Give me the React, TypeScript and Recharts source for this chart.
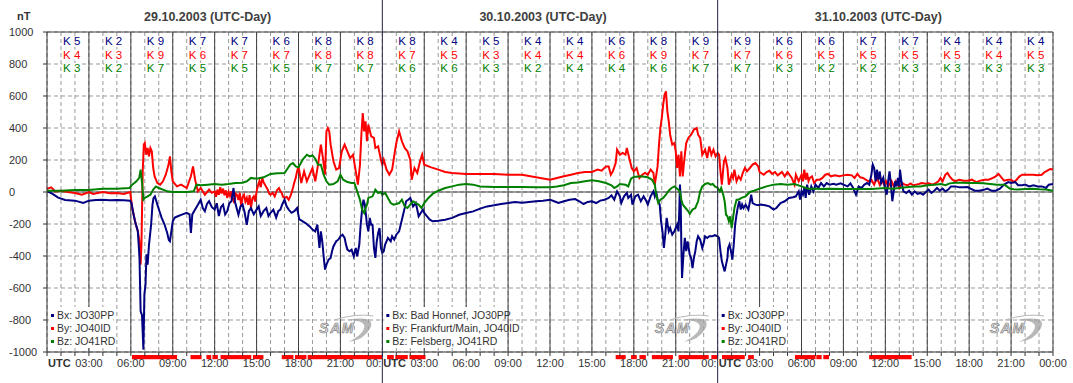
import React from 'react'
import {
  LineChart, Line, XAxis, YAxis, CartesianGrid, ReferenceLine, ReferenceArea,
} from 'recharts'

// Magnetometer Bx / By / Bz, 29.-31.10.2003, hours since 29.10. 00:00 UTC
const BX: [number, number][] = [
  [0, 5], [0.4, -12], [0.8, -35], [1.3, -50], [2, -54], [2.6, -68], [3, -54], [3.5, -50], [4, -48], [4.5, -52], [5, -50], [5.5, -52], [5.95, -55],
  [6.05, -70], [6.15, -120], [6.3, -183], [6.5, -245], [6.62, -410], [6.7, -745], [6.8, -770], [6.9, -985], [6.97, -640], [7.05, -580], [7.12, -390],
  [7.2, -455], [7.3, -330], [7.45, -205], [7.55, -80], [7.62, -38], [7.72, -27], [7.9, -79], [8.05, -120], [8.2, -160], [8.4, -200], [8.6, -255],
  [8.72, -300], [8.8, -308], [8.9, -245], [9.0, -183], [9.15, -160], [9.4, -150], [9.7, -140], [10, -130], [10.2, -140], [10.3, -255], [10.4, -140],
  [10.6, -110], [10.8, -80], [11, -48], [11.15, -100], [11.3, -120], [11.45, -75], [11.6, -58], [11.8, -95], [12, -110], [12.15, -70], [12.3, -150],
  [12.45, -95], [12.6, -79], [12.75, -140], [12.9, -120], [13.05, -70], [13.2, -58], [13.35, 25], [13.45, -60], [13.6, -110], [13.7, -142],
  [13.85, -90], [14, -79], [14.15, -130], [14.3, -205], [14.45, -120], [14.6, -100], [14.8, -140], [15, -110], [15.15, -90], [15.3, -150],
  [15.5, -120], [15.7, -100], [15.85, -150], [16, -130], [16.2, -110], [16.4, -160], [16.55, -120], [16.7, -110], [16.85, -75], [17, -48],
  [17.15, -90], [17.3, -110], [17.5, -130], [17.7, -120], [17.9, -100], [18.05, -170],
  [18.3, -183], [18.5, -194], [18.8, -215], [19, -235], [19.2, -246], [19.35, -204], [19.5, -350], [19.6, -246], [19.7, -308], [19.8, -402],
  [19.9, -485], [20, -454], [20.15, -423], [20.3, -412], [20.4, -370], [20.5, -340], [20.7, -308], [20.85, -298], [21, -277], [21.15, -267],
  [21.3, -287], [21.4, -329], [21.5, -360], [21.65, -370], [21.8, -360], [21.95, -402], [22.1, -350], [22.2, -402], [22.35, -330], [22.45, -204],
  [22.55, -110], [22.65, -48], [22.75, -79], [22.9, -204], [23, -246], [23.1, -162], [23.2, -204], [23.3, -204], [23.4, -350], [23.5, -412],
  [23.6, -308], [23.7, -256], [23.8, -225], [23.9, -350], [24, -381], [24.1, -370], [24.2, -329], [24.4, -287], [24.6, -308], [24.7, -277],
  [24.85, -298], [25, -267], [25.2, -246], [25.4, -173], [25.6, -100], [25.7, -58], [25.85, -48], [26, -37], [26.2, -90], [26.4, -69],
  [26.6, -152], [26.75, -131], [26.9, -110], [27, -131], [27.2, -152], [27.4, -173], [27.6, -183], [28, -179], [28.5, -173], [29, -162],
  [29.5, -142], [30, -131], [30.5, -121], [31, -104], [31.5, -90], [32, -83], [32.5, -75], [33, -69], [33.5, -62], [34, -67], [34.5, -62],
  [35, -58], [35.5, -54], [36, -48],
  [36.3, -58], [36.6, -69], [37, -58], [37.4, -48], [37.8, -44], [38.1, -58], [38.4, -75], [38.7, -62], [39, -58], [39.3, -69], [39.6, -54],
  [39.9, -48], [40.2, -37], [40.4, -21], [40.6, -48], [40.8, 4], [41, -27], [41.1, -69], [41.3, -27], [41.5, -6], [41.6, -37], [41.8, -17],
  [41.9, -79], [42.1, -27], [42.3, -17], [42.5, -58], [42.7, -27], [42.9, -58], [43, -79], [43.2, -27], [43.4, 4], [43.5, -27], [43.6, 4],
  [43.7, -48], [43.85, -79], [43.95, -183], [44.05, -246], [44.15, -350], [44.25, -267], [44.35, -162], [44.5, -246], [44.6, -225],
  [44.75, -267], [44.9, -246], [45, -225], [45.1, -204], [45.2, -246], [45.25, -121], [45.3, 46], [45.35, -37], [45.4, -329], [45.45, -537],
  [45.55, -392], [45.65, -287], [45.75, -370], [45.85, -308], [46, -392], [46.1, -412], [46.2, -475], [46.3, -412], [46.4, -370], [46.5, -308],
  [46.6, -277], [46.75, -298], [46.9, -350], [47, -319], [47.1, -277], [47.25, -287], [47.4, -277], [47.6, -277], [47.8, -270], [48, -277],
  [48.1, -287], [48.2, -370], [48.3, -433], [48.4, -465], [48.5, -496], [48.6, -454], [48.7, -412], [48.75, -350], [48.85, -329], [48.95, -370],
  [49.05, -423], [49.15, -329], [49.25, -204], [49.35, -142], [49.45, -90], [49.55, -58], [49.65, -110], [49.75, -79], [49.85, -100], [50, -79],
  [50.2, -110], [50.4, -17], [50.5, -69], [50.7, -79], [50.9, -83], [51.1, -79], [51.4, -83], [51.7, -90], [52, -110], [52.2, -100], [52.5, -69],
  [52.8, -58], [53.1, -37], [53.4, -33], [53.6, -27], [53.8, 4], [53.9, -48], [54, 4],
  [54.1, -17], [54.2, 25], [54.3, -37], [54.4, 46], [54.55, -17], [54.7, 35], [54.85, 4], [55, 46], [55.2, 25], [55.4, 56], [55.6, 35], [55.8, 56],
  [56, 46], [56.3, 52], [56.5, 46], [56.8, 54], [57, 46], [57.3, 35], [57.5, 54], [57.7, 25], [57.9, -17], [58.1, 35], [58.3, 25], [58.5, 46],
  [58.7, 56], [58.85, 46], [59, 108], [59.1, 171], [59.2, 150], [59.3, 67], [59.4, 140], [59.5, 77], [59.6, 129], [59.7, 56], [59.85, 88],
  [60, 15], [60.1, -17], [60.2, 67], [60.3, 129], [60.4, 46], [60.5, -58], [60.6, 4], [60.7, 67], [60.8, 35], [60.9, 88], [61, 35], [61.05, 140],
  [61.15, 67], [61.3, 4], [61.5, -6], [61.7, 8], [61.9, -17], [62.1, 4], [62.3, -12], [62.5, -6], [62.7, -17], [62.9, 0], [63.1, 15], [63.3, -6],
  [63.5, 8], [63.7, 25], [63.9, 8], [64.1, 21], [64.3, 4], [64.5, 15], [64.7, 35], [65, 35], [65.3, 29], [65.6, 29], [65.9, 31], [66.1, 21],
  [66.4, 8], [66.7, 8], [67, 12], [67.3, 21], [67.6, 8], [67.9, 8], [68.2, 21], [68.5, 46], [68.8, 62], [69, 56], [69.3, 62], [69.5, 42],
  [69.8, 42], [70, 46], [70.3, 35], [70.6, 42], [70.9, 35], [71.2, 35], [71.5, 25], [71.7, 46], [72, 50],
]

const BY: [number, number][] = [
  [0, 20], [0.3, 29], [0.6, 4], [1, 8], [1.5, 0], [2, -6], [2.5, -17], [3, 0], [3.3, -12], [4, 0], [4.5, -8], [5, -6], [5.5, -12], [5.95, 0],
  [6.1, -100], [6.3, -183], [6.5, -245], [6.6, -298], [6.7, -454], [6.76, -330], [6.85, 129], [6.93, 296], [7.0, 306], [7.1, 233], [7.2, 275],
  [7.3, 223], [7.4, 275], [7.5, 254], [7.6, 150], [7.7, 98], [7.9, 56], [8.1, 46], [8.3, 67], [8.5, 108], [8.7, 171], [8.8, 223], [8.9, 129],
  [9.0, 67], [9.3, 35], [9.6, 46], [10, 25], [10.3, 98], [10.45, 160], [10.6, 77], [10.8, 4], [11, 25], [11.3, -17], [11.6, 15], [11.8, -5],
  [12, 4], [12.1, -30], [12.2, 15], [12.3, -17], [12.4, 30], [12.5, -10], [12.6, 21], [12.7, -20], [12.8, 10], [12.9, -37], [13, 0], [13.1, -25],
  [13.2, 4], [13.3, -40], [13.4, -69], [13.5, -10], [13.6, -17], [13.7, -50], [13.8, -5], [13.9, -90], [14, -30], [14.1, -17], [14.2, -60],
  [14.3, -37], [14.4, -80], [14.5, -20], [14.6, -100], [14.7, -40], [14.8, -27], [14.9, -60], [15, 4], [15.1, 40], [15.2, 67], [15.3, 30],
  [15.4, 88], [15.5, 60], [15.6, 46], [15.7, 30], [15.8, 15], [15.9, -10], [16, -17], [16.15, -5], [16.3, -27], [16.45, 10], [16.6, 25],
  [16.7, 5], [16.8, -6], [16.9, -30], [17, -37], [17.15, -30], [17.3, -48], [17.45, -20], [17.6, 25], [17.7, 60], [17.8, 88], [17.9, 130], [18, 160],
  [18.2, 56], [18.4, 129], [18.6, 67], [18.8, 108], [19, 150], [19.2, 67], [19.4, 171], [19.6, 296], [19.75, 212], [19.9, 108], [20, 379],
  [20.1, 400], [20.2, 379], [20.3, 296], [20.5, 192], [20.7, 140], [20.9, 150], [21.1, 254], [21.3, 296], [21.5, 254], [21.7, 212], [21.9, 233],
  [22.1, 129], [22.25, 46], [22.4, 171], [22.5, 358], [22.6, 494], [22.7, 379], [22.8, 442], [22.9, 317], [23, 421], [23.2, 348], [23.4, 338],
  [23.5, 275], [23.7, 285], [23.9, 202], [24, 171], [24.1, 202], [24.3, 140], [24.5, 108], [24.7, 140], [24.9, 254], [25, 306], [25.2, 379],
  [25.4, 317], [25.6, 275], [25.8, 254], [26, 202], [26.1, 77], [26.3, 150], [26.5, 119], [26.7, 192], [26.85, 233], [27, 171], [27.5, 154],
  [28, 140], [28.5, 125], [29, 119], [30, 113], [31, 113], [32, 113], [33, 108], [34, 108], [35, 92], [36, 77],
  [36.5, 88], [37, 98], [37.5, 108], [38, 119], [38.5, 125], [39, 125], [39.4, 140], [39.7, 133], [40, 160], [40.2, 160], [40.35, 108],
  [40.5, 129], [40.7, 181], [40.8, 265], [41, 233], [41.2, 244], [41.4, 233], [41.5, 275], [41.7, 202], [41.85, 150], [42, 129], [42.2, 150],
  [42.4, 88], [42.6, 108], [42.8, 119], [43, 108], [43.2, 140], [43.4, 119], [43.5, 46], [43.7, 160], [43.8, 296], [43.9, 400], [44, 463],
  [44.1, 546], [44.2, 608], [44.3, 629], [44.4, 504], [44.5, 442], [44.6, 358], [44.75, 296], [44.9, 306], [45, 254], [45.1, 150], [45.2, 233],
  [45.3, 98], [45.4, 254], [45.5, 98], [45.6, 192], [45.75, 306], [45.9, 338], [46.1, 358], [46.3, 390], [46.5, 400], [46.6, 358], [46.75, 338],
  [46.9, 233], [47.1, 265], [47.25, 212], [47.4, 285], [47.55, 233], [47.7, 265], [47.85, 223], [48, 244], [48.1, 233], [48.2, 129], [48.3, 46],
  [48.45, 192], [48.55, 212], [48.7, 150], [48.8, 46], [49, 108], [49.1, 88], [49.2, 140], [49.35, 67], [49.5, 98], [49.65, 77], [49.8, 119],
  [49.95, 150], [50.1, 129], [50.3, 150], [50.5, 171], [50.7, 181], [50.9, 160], [51, 125], [51.3, 108], [51.5, 125], [51.7, 133], [51.9, 113],
  [52.1, 125], [52.3, 104], [52.6, 125], [52.8, 98], [53, 125], [53.3, 88], [53.5, 46], [53.6, 108], [53.8, 67], [54, 108],
  [54.1, 67], [54.2, 140], [54.3, 77], [54.4, 119], [54.5, 67], [54.6, 88], [54.75, 98], [54.9, 56], [55.1, 77], [55.3, 77], [55.5, 88],
  [55.7, 108], [55.9, 113], [56.1, 98], [56.4, 104], [56.7, 98], [57, 104], [57.3, 108], [57.6, 104], [57.8, 88], [58, 113], [58.2, 92],
  [58.4, 88], [58.6, 77], [58.8, 67], [59, 77], [59.2, 46], [59.4, 88], [59.6, 46], [59.75, 77], [59.9, 46], [60.05, 67], [60.2, 35], [60.3, 46],
  [60.45, 67], [60.6, 35], [60.75, 67], [60.9, 46], [61, 25], [61.2, 56], [61.4, 46], [61.6, 42], [61.8, 54], [62, 42], [62.2, 46], [62.4, 50],
  [62.6, 56], [62.9, 52], [63.1, 54], [63.4, 46], [63.6, 56], [63.8, 67], [63.95, 88], [64.1, 67], [64.3, 108], [64.45, 119], [64.6, 98],
  [64.8, 77], [65, 67], [65.3, 77], [65.6, 71], [65.9, 71], [66.2, 77], [66.5, 62], [66.8, 71], [67.1, 77], [67.4, 77], [67.7, 88], [67.9, 98],
  [68.1, 113], [68.3, 92], [68.5, 71], [68.8, 77], [69, 77], [69.2, 62], [69.4, 77], [69.6, 98], [69.8, 108], [70, 108], [70.3, 108],
  [70.6, 108], [70.9, 104], [71.2, 108], [71.4, 125], [71.6, 133], [71.8, 144], [72, 140],
]

const BZ: [number, number][] = [
  [0, 8], [1, 8], [2, 12], [3, 12], [4, 21], [5, 21], [5.9, 25], [6.1, 46], [6.4, 67], [6.6, 88], [6.7, 140], [6.8, 60], [6.9, -48], [7.0, -37],
  [7.2, -27], [7.4, -17], [7.6, 15], [7.8, 35], [8, 25], [8.3, 15], [8.6, 4], [9, 0], [9.5, 0], [10, 0], [10.5, 4], [10.7, 46], [11, 42],
  [11.5, 46], [12, 50], [12.5, 46], [13, 50], [13.5, 56], [14, 58], [14.3, 67], [14.6, 88], [15, 83], [15.5, 92], [16, 113], [16.5, 117],
  [17, 119], [17.4, 171], [17.6, 181], [17.8, 160], [18, 154], [18.3, 202], [18.6, 233], [18.8, 223], [19, 229], [19.2, 208], [19.4, 171],
  [19.6, 171], [19.8, 108], [20, 67], [20.2, 46], [20.5, 50], [20.8, 67], [21, 108], [21.2, 77], [21.5, 62], [21.8, 56], [22, 56], [22.2, 4],
  [22.4, -48], [22.55, -110], [22.7, -131], [22.8, -100], [22.9, -79], [23, -37], [23.3, -27], [23.5, 15], [23.7, -6], [23.9, 0], [24, -17],
  [24.2, -6], [24.4, -37], [24.6, -69], [24.8, -79], [25, -75], [25.2, -69], [25.4, -48], [25.6, -90], [25.8, -100], [26, -79], [26.2, -58],
  [26.4, -69], [26.6, -79], [26.8, -100], [27, -69], [27.3, -37], [27.6, -12], [28, 8], [28.5, 25], [29, 35], [29.5, 46], [30, 50], [30.5, 46],
  [31, 35], [32, 31], [33, 31], [34, 31], [35, 29], [36, 29],
  [36.5, 35], [37, 42], [37.5, 56], [38, 60], [38.5, 67], [39, 73], [39.5, 67], [40, 56], [40.4, 42], [40.6, 25], [40.8, 35], [41, 50],
  [41.4, 46], [41.6, 35], [41.8, 83], [42, 94], [42.5, 98], [43, 92], [43.3, 77], [43.5, 46], [43.6, -17], [43.75, -69], [43.9, -48],
  [44.1, -37], [44.3, -17], [44.5, 8], [44.7, 25], [44.9, 35], [45.1, 21], [45.3, 4], [45.4, -48], [45.5, -79], [45.7, -100], [45.9, -121],
  [46, -137], [46.2, -110], [46.4, -100], [46.6, -58], [46.75, 4], [46.9, 35], [47.1, 50], [47.3, 56], [47.5, 46], [47.65, 50], [47.8, 35],
  [48, 25], [48.15, 4], [48.25, 25], [48.4, -17], [48.5, -58], [48.6, -142], [48.7, -152], [48.8, -183], [48.9, -152], [49, -225], [49.1, -162],
  [49.2, -100], [49.35, -48], [49.5, -48], [49.7, -37], [50, -27], [50.3, 0], [50.6, 8], [51, 21], [51.5, 35], [52, 46], [52.5, 50], [53, 46],
  [53.5, 50], [54, 35],
  [54.5, 21], [55, 21], [55.5, 19], [56, 21], [57, 19], [58, 19], [59, 19], [60, 25], [60.5, 21], [61, 25], [62, 35], [62.5, 35], [63, 42],
  [63.5, 46], [64, 50], [64.3, 42], [64.6, 54], [65, 58], [65.5, 58], [66, 56], [66.5, 56], [67, 54], [67.5, 50], [68, 46], [68.5, 46],
  [68.7, 35], [68.9, 21], [69.2, 17], [69.5, 15], [70, 19], [70.5, 21], [71, 17], [71.5, 15], [72, 8],
]

// red marks below the time axis (start hour, end hour)
const ALERTS: [number, number][] = [
  [6.08, 9.31], [10.27, 11.06], [11.41, 11.75], [11.84, 12.23], [12.42, 14.62], [14.74, 15.49], [16.8, 17.64], [17.75, 18.57],
  [18.66, 24.0], [24.34, 24.82], [24.93, 25.82], [25.94, 27.09], [40.7, 41.42], [41.8, 42.21], [42.4, 42.86], [43.29, 44.8],
  [45.2, 47.36], [47.55, 48.03], [48.31, 49.94], [50.18, 50.59], [53.53, 55.01], [55.06, 55.44], [55.56, 55.97], [58.84, 61.88],
]

// K indices per 3-hour block
const K_BX = [5, 2, 9, 7, 7, 6, 8, 8, 8, 4, 5, 4, 4, 6, 8, 9, 9, 6, 6, 7, 7, 4, 4, 4]
const K_BY = [4, 3, 9, 6, 7, 7, 8, 8, 7, 5, 3, 4, 4, 6, 9, 7, 7, 6, 5, 5, 5, 5, 4, 5]
const K_BZ = [3, 2, 7, 5, 5, 5, 7, 7, 6, 6, 3, 2, 4, 4, 6, 7, 7, 3, 2, 2, 3, 3, 3, 3]

const DAYS = ['29.10.2003 (UTC-Day)', '30.10.2003 (UTC-Day)', '31.10.2003 (UTC-Day)']
const LEGEND_SHORT = ['Bx: JO30PP', 'By: JO40ID', 'Bz: JO41RD']
const LEGEND_LONG = ['Bx: Bad Honnef, JO30PP', 'By: Frankfurt/Main, JO40ID', 'Bz: Felsberg, JO41RD']
const Y_TICKS = [-1000, -800, -600, -400, -200, 0, 200, 400, 600, 800, 1000]
const HOURS = Array.from({ length: 73 }, (_, i) => i)
const MAJOR = HOURS.filter((h) => h % 3 === 0 && h > 0 && h < 72 && h % 24 !== 0)

const COLORS = ['#000080', '#ff0000', '#008000']
const FONT = '"Liberation Sans", Arial, sans-serif'
const W = 1073
const H = 383
const PL = 47
const PT = 32
const PR = 1053
const PB = 352
const PXH = (PR - PL) / 72

const toRows = (d: [number, number][]) => d.map(([t, v]) => ({ t, v }))

function XTick({ x, payload }: any) {
  const v = payload.value as number
  if (v % 3 !== 0) return <g />
  if (v % 24 === 0 && v < 72) {
    return (
      <g fontFamily={FONT} fontSize={11} fill="#333">
        {v > 0 && <text x={x - 1} y={PB + 15} textAnchor="end">00:</text>}
        <text x={x + 1} y={PB + 15} textAnchor="start" fontWeight="bold">UTC</text>
      </g>
    )
  }
  const hh = String(v % 24).padStart(2, '0')
  return (
    <text x={x} y={PB + 15} textAnchor="middle" fontFamily={FONT} fontSize={11} fill="#333">{hh}:00</text>
  )
}

function YTick({ y, payload }: any) {
  return (
    <text x={9} y={y + 4} textAnchor="start" fontFamily={FONT} fontSize={11} fill="#333">{payload.value}</text>
  )
}

function Logo({ x, y }: { x: number; y: number }) {
  return (
    <g>
      <path d={`M ${x + 18} ${y + 6} Q ${x + 40} ${y - 1} ${x + 57} ${y + 2}`} fill="none" stroke="#b8b8b8" strokeWidth={1} />
      <path
        d={`M ${x + 30} ${y + 6} Q ${x + 60} ${y + 1} ${x + 54} ${y + 14} Q ${x + 48} ${y + 26} ${x + 32} ${y + 28} Q ${x + 48} ${y + 20} ${x + 48} ${y + 12} Q ${x + 47} ${y + 6} ${x + 30} ${y + 6} Z`}
        fill="#a0a0a0" opacity={0.75}
      />
      <text x={x + 3} y={y + 19} fontFamily={FONT} fontSize={14} fontStyle="italic" fontWeight="bold"
        letterSpacing={1.5} fill="#dcdcdc" stroke="#777" strokeWidth={0.6}>SAM</text>
    </g>
  )
}

function Overlay() {
  const kRows = [K_BX, K_BY, K_BZ]
  const kBase = [45, 58.5, 72]
  return (
    <svg width={W} height={H} style={{ position: 'absolute', left: 0, top: 0, pointerEvents: 'none' }}>
      <text x={17} y={20} fontFamily={FONT} fontSize={11} fontWeight="bold" fill="#333">nT</text>
      {DAYS.map((d, i) => (
        <text key={d} x={PL + (i + 0.5) * 24 * PXH - 7} y={21} textAnchor="middle" fontFamily={FONT}
          fontSize={12.5} fontWeight="bold" fill="#404040">{d}</text>
      ))}
      {[24, 48].map((h) => (
        <g key={h}>
          <line x1={PL + h * PXH} x2={PL + h * PXH} y1={0} y2={PT} stroke="#22224a" />
          <line x1={PL + h * PXH} x2={PL + h * PXH} y1={PB} y2={H} stroke="#22224a" />
        </g>
      ))}
      {kRows.map((row, r) => row.map((k, b) => {
        const tx = PL + b * 3 * PXH + 16
        return (
          <g key={`${r}-${b}`}>
            <rect x={tx - 0.5} y={kBase[r] - 9} width={17} height={11} fill="#fff" />
            <text x={tx} y={kBase[r]} fontFamily={FONT} fontSize={11.5} fill={COLORS[r]}>K {k}</text>
          </g>
        )
      }))}
      {DAYS.map((d, i) => {
        const items = i === 1 ? LEGEND_LONG : LEGEND_SHORT
        const x0 = PL + i * 24 * PXH
        const bw = i === 1 ? 118 : 64
        return (
          <g key={`lg${i}`}>
            <rect x={x0 + 2} y={307} width={bw} height={41} fill="#fff" />
            {items.map((s, j) => (
              <g key={s}>
                <rect x={x0 + 4} y={314 + j * 13} width={3} height={3} fill={COLORS[j]} />
                <text x={x0 + 10} y={319 + j * 13} fontFamily={FONT} fontSize={10.5} fill="#333">{s}</text>
              </g>
            ))}
          </g>
        )
      })}
      {DAYS.map((d, i) => (
        <Logo key={`lo${i}`} x={PL + (i + 1) * 24 * PXH - 66} y={314} />
      ))}
    </svg>
  )
}

export default function App() {
  return (
    <div style={{ position: 'absolute', left: 0, top: 0, width: W, height: H, background: '#fff' }}>
      <LineChart width={W} height={H} margin={{ top: PT, right: W - PR, bottom: 0, left: 0 }}>
        <CartesianGrid stroke="#999" strokeDasharray="4 3" />
        <CartesianGrid stroke="#404040" strokeDasharray="" verticalValues={[...MAJOR, 72]} horizontalValues={[1000, 0]} />
        <XAxis dataKey="t" type="number" domain={[0, 72]} ticks={HOURS} interval={0} allowDataOverflow
          height={H - PB} tick={<XTick />} tickSize={4} tickLine={{ stroke: '#333' }} axisLine={{ stroke: '#333' }} />
        <YAxis type="number" domain={[-1000, 1000]} ticks={Y_TICKS} allowDataOverflow width={PL}
          tick={<YTick />} tickSize={4} tickLine={{ stroke: '#333' }} axisLine={{ stroke: '#333' }} />
        {ALERTS.map(([a, b]) => (
          <ReferenceArea key={a} x1={a} x2={b} y1={-1019} y2={-1045} fill="#ff0000" fillOpacity={1}
            stroke="none" ifOverflow="visible" />
        ))}
        <Line data={toRows(BY)} dataKey="v" type="linear" stroke={COLORS[1]} strokeWidth={2} dot={false} isAnimationActive={false} />
        <Line data={toRows(BX)} dataKey="v" type="linear" stroke={COLORS[0]} strokeWidth={2} dot={false} isAnimationActive={false} />
        <Line data={toRows(BZ)} dataKey="v" type="linear" stroke={COLORS[2]} strokeWidth={2} dot={false} isAnimationActive={false} />
        <ReferenceLine x={24} stroke="#22224a" ifOverflow="visible" />
        <ReferenceLine x={48} stroke="#22224a" ifOverflow="visible" />
      </LineChart>
      <Overlay />
    </div>
  )
}
